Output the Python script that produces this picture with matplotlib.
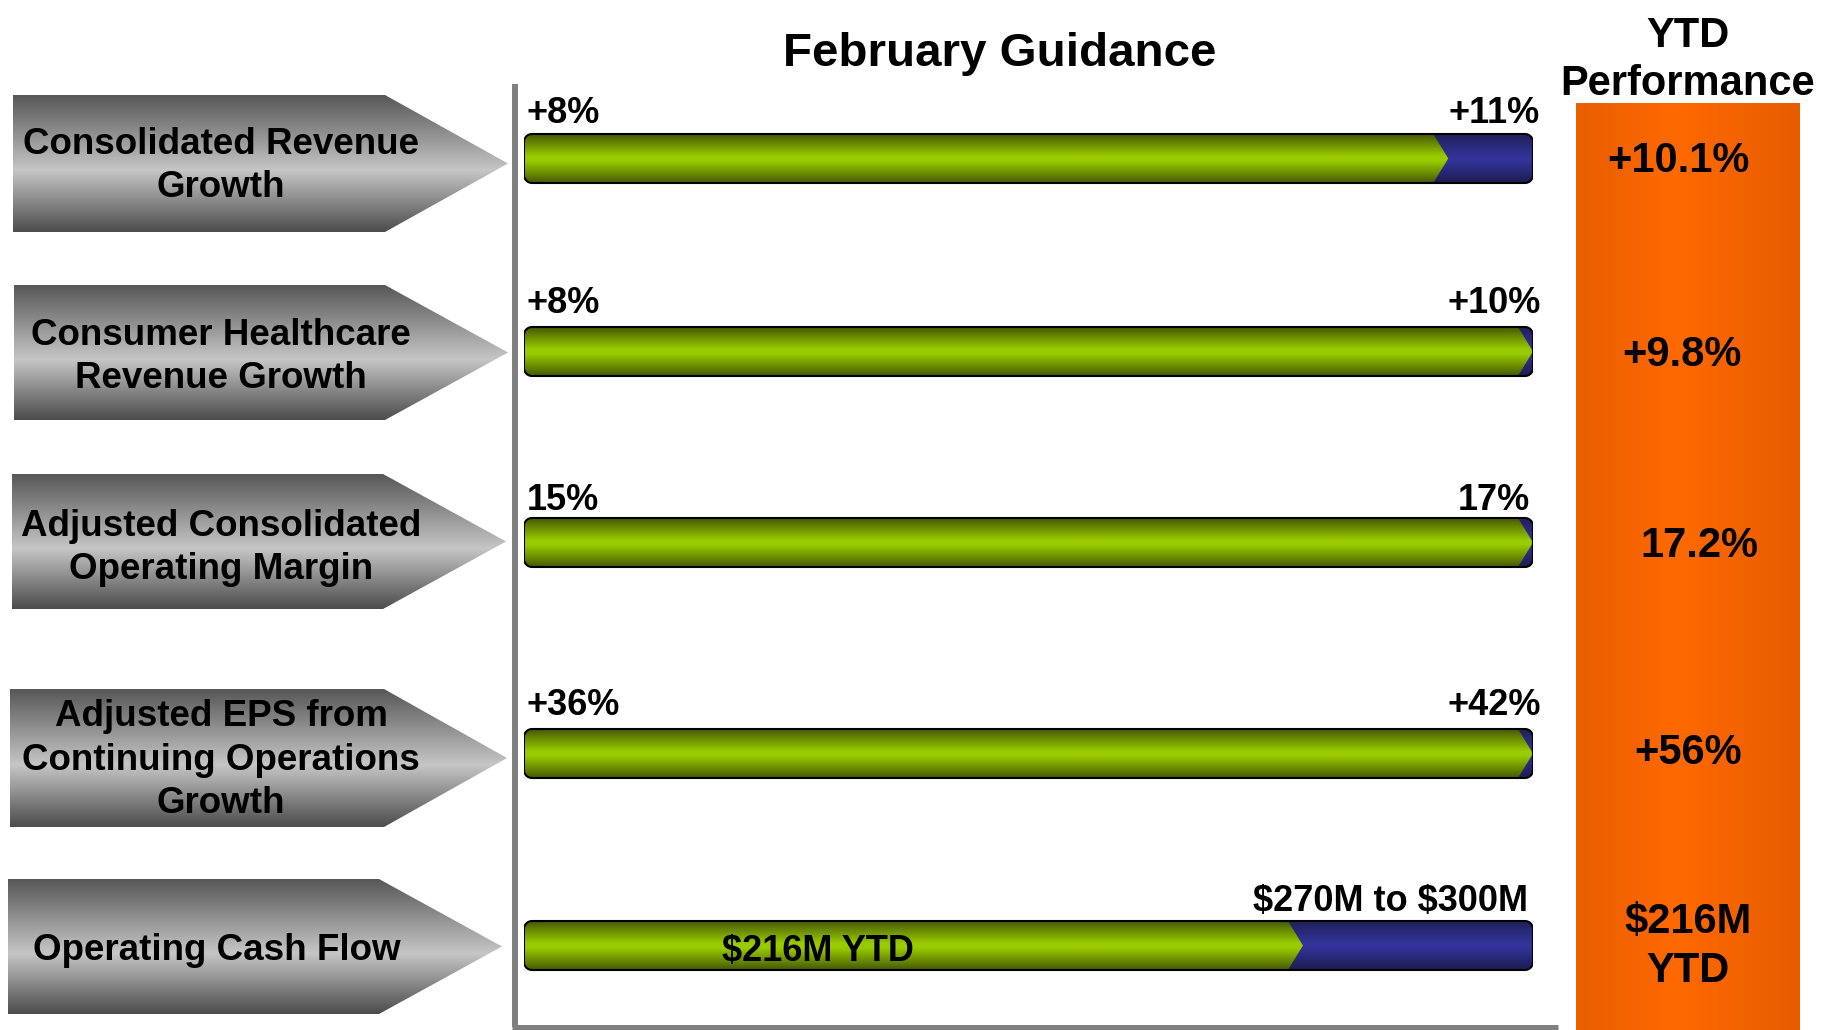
import numpy as np
import matplotlib
matplotlib.use('Agg')
import matplotlib.pyplot as plt
from matplotlib import colors
from matplotlib.patches import Polygon

plt.rcParams['font.family'] = ['Liberation Sans', 'DejaVu Sans']
plt.rcParams['font.weight'] = 'bold'

# ---- data ----
title = 'February Guidance'
ytd_header = ['YTD', 'Performance']
metrics = ['Consolidated Revenue\nGrowth',
           'Consumer Healthcare\nRevenue Growth',
           'Adjusted Consolidated\nOperating Margin',
           'Adjusted EPS from\nContinuing Operations\nGrowth',
           'Operating Cash Flow']
low_labels = ['+8%', '+8%', '15%', '+36%', '']
high_labels = ['+11%', '+10%', '17%', '+42%', '$270M to $300M']
inner_labels = ['', '', '', '', '$216M YTD']
green_frac = [0.916, 1.0, 1.0, 1.0, 0.772]   # share of the bar drawn green
ytd_values = ['+10.1%', '+9.8%', '17.2%', '+56%', '$216M\nYTD']

# ---- layout (pixels) ----
W, H = 1823, 1030
BAR_X0, BAR_X1 = 524, 1533
L = BAR_X1 - BAR_X0
bar_top = [134, 327, 518, 729, 921]
BAR_H = 49
label_base = [123, 313, 510, 715, 911]
label_right = [7, 8, -3, 8, -5]
arrows = [(13, 95, 232, 385, 508), (14, 285, 420, 385, 508),
          (12, 474, 609, 383, 506), (10, 689, 827, 384, 507),
          (8, 879, 1014, 379, 502)]
arrow_text = [(221, 166), (221, 357), (221, 548), (221, 760), (217, 950)]
ytd_pos = [(1678, 172), (1682, 366), (1699, 557), (1688, 764), (1688, 943)]

GREEN = [(0, '#465800'), (0.45, '#99cc00'), (0.55, '#99cc00'), (1, '#465800')]
BLUE = [(0, '#20205a'), (0.45, '#333399'), (0.55, '#333399'), (1, '#1c1c50')]
GRAY = [(0, '#575757'), (0.55, '#c6c6c6'), (1, '#4c4c4c')]
ORANGE = [(0, '#e85e00'), (0.45, '#ff6900'), (1, '#e65d00')]


def ramp(stops, n=256):
    pos = [s[0] for s in stops]
    rgb = np.array([colors.to_rgb(s[1]) for s in stops])
    t = np.linspace(0, 1, n)
    out = np.stack([np.interp(t, pos, rgb[:, k]) for k in range(3)], axis=-1)
    return out[:, None, :]


def grad_fill(axis, verts, stops, extent, horizontal=False, z=2):
    patch = Polygon(verts, closed=True, facecolor='none', edgecolor='none')
    axis.add_patch(patch)
    img = ramp(stops)
    if horizontal:
        img = img.transpose(1, 0, 2)
    im = axis.imshow(img, extent=extent, aspect='auto',
                     interpolation='bilinear', zorder=z)
    im.set_clip_path(patch)


def arc(cx, cy, r, a0, a1, n=10):
    t = np.linspace(a0, a1, n)
    return np.column_stack([cx + r * np.cos(t), cy + r * np.sin(t)])


def rounded_box(x0, x1, y0, y1, r):
    return np.vstack([arc(x1 - r, y0 + r, r, -np.pi / 2, 0),
                      arc(x1 - r, y1 - r, r, 0, np.pi / 2),
                      arc(x0 + r, y1 - r, r, np.pi / 2, np.pi),
                      arc(x0 + r, y0 + r, r, np.pi, 1.5 * np.pi)])


def chevron_box(x0, xt, y0, y1, r, d):
    return np.vstack([[[xt - d, y0], [xt, (y0 + y1) / 2], [xt - d, y1]],
                      arc(x0 + r, y1 - r, r, np.pi / 2, np.pi),
                      arc(x0 + r, y0 + r, r, np.pi, 1.5 * np.pi)])


fig = plt.figure(figsize=(W / 100, H / 100), dpi=100)
ax = fig.add_axes([0, 0, 1, 1])
bx = fig.add_axes([BAR_X0 / W, 0, L / W, 1])

# left arrows
for (x0, y0, y1, xr, xt), name, (tx, ty) in zip(arrows, metrics, arrow_text):
    verts = [(x0, y0), (xr, y0), (xt, (y0 + y1) / 2), (xr, y1), (x0, y1)]
    grad_fill(ax, verts, GRAY, (x0, xt, y1, y0))
    ax.text(tx, ty, name, ha='center', va='center', fontsize=26.5,
            linespacing=1.3, zorder=5)

# frame lines
ax.plot([514.5, 514.5], [84, 1027], color='#808080', lw=4.3,
        solid_capstyle='butt', zorder=3)
ax.plot([512, 1558], [1027, 1027], color='#808080', lw=3.6,
        solid_capstyle='butt', zorder=3)

# orange YTD column
grad_fill(ax, [(1576, 103), (1800, 103), (1800, H), (1576, H)], ORANGE,
          (1576, 1800, H, 103), horizontal=True)
for (x, y), val in zip(ytd_pos, ytd_values):
    parts = val.split('\n')
    for k, part in enumerate(parts):
        dy = 0 if len(parts) == 1 else -10 + 49 * k
        ax.text(x, y + dy, part, ha='center', va='baseline', fontsize=30,
                zorder=5, parse_math=False)
ax.text(1688, 47, ytd_header[0], ha='center', va='baseline', fontsize=30)
ax.text(1688, 95, ytd_header[1], ha='center', va='baseline', fontsize=30)

ax.text(1000, 66, title, ha='center', va='baseline', fontsize=34.2)

# guidance bars (x in share of bar length)
R, D = 8, 15
for i, frac in enumerate(green_frac):
    y0 = bar_top[i]
    y1 = y0 + BAR_H
    box = rounded_box(0, L, y0, y1, R)
    box[:, 0] /= L
    grad_fill(bx, box, BLUE, (0, 1, y1, y0))
    g = chevron_box(0, frac * L, y0, y1, R, D)
    g[:, 0] /= L
    grad_fill(bx, g, GREEN, (0, 1, y1, y0), z=3)
    bx.add_patch(Polygon(box, closed=True, facecolor='none',
                         edgecolor='black', lw=1.5, zorder=4))
    if low_labels[i]:
        bx.text(3 / L, label_base[i], low_labels[i], ha='left',
                va='baseline', fontsize=26)
    bx.text(1 + label_right[i] / L, label_base[i], high_labels[i],
            ha='right', va='baseline', fontsize=26, parse_math=False)
    if inner_labels[i]:
        bx.text((818 - BAR_X0) / L, (y0 + y1) / 2 + 16, inner_labels[i],
                ha='center', va='baseline', fontsize=26, zorder=5,
                parse_math=False)

ax.set_xlim(0, W)
ax.set_ylim(H, 0)
ax.axis('off')
bx.set_xlim(0, 1)
bx.set_ylim(H, 0)
bx.axis('off')

fig.savefig('out.png', dpi=100)
